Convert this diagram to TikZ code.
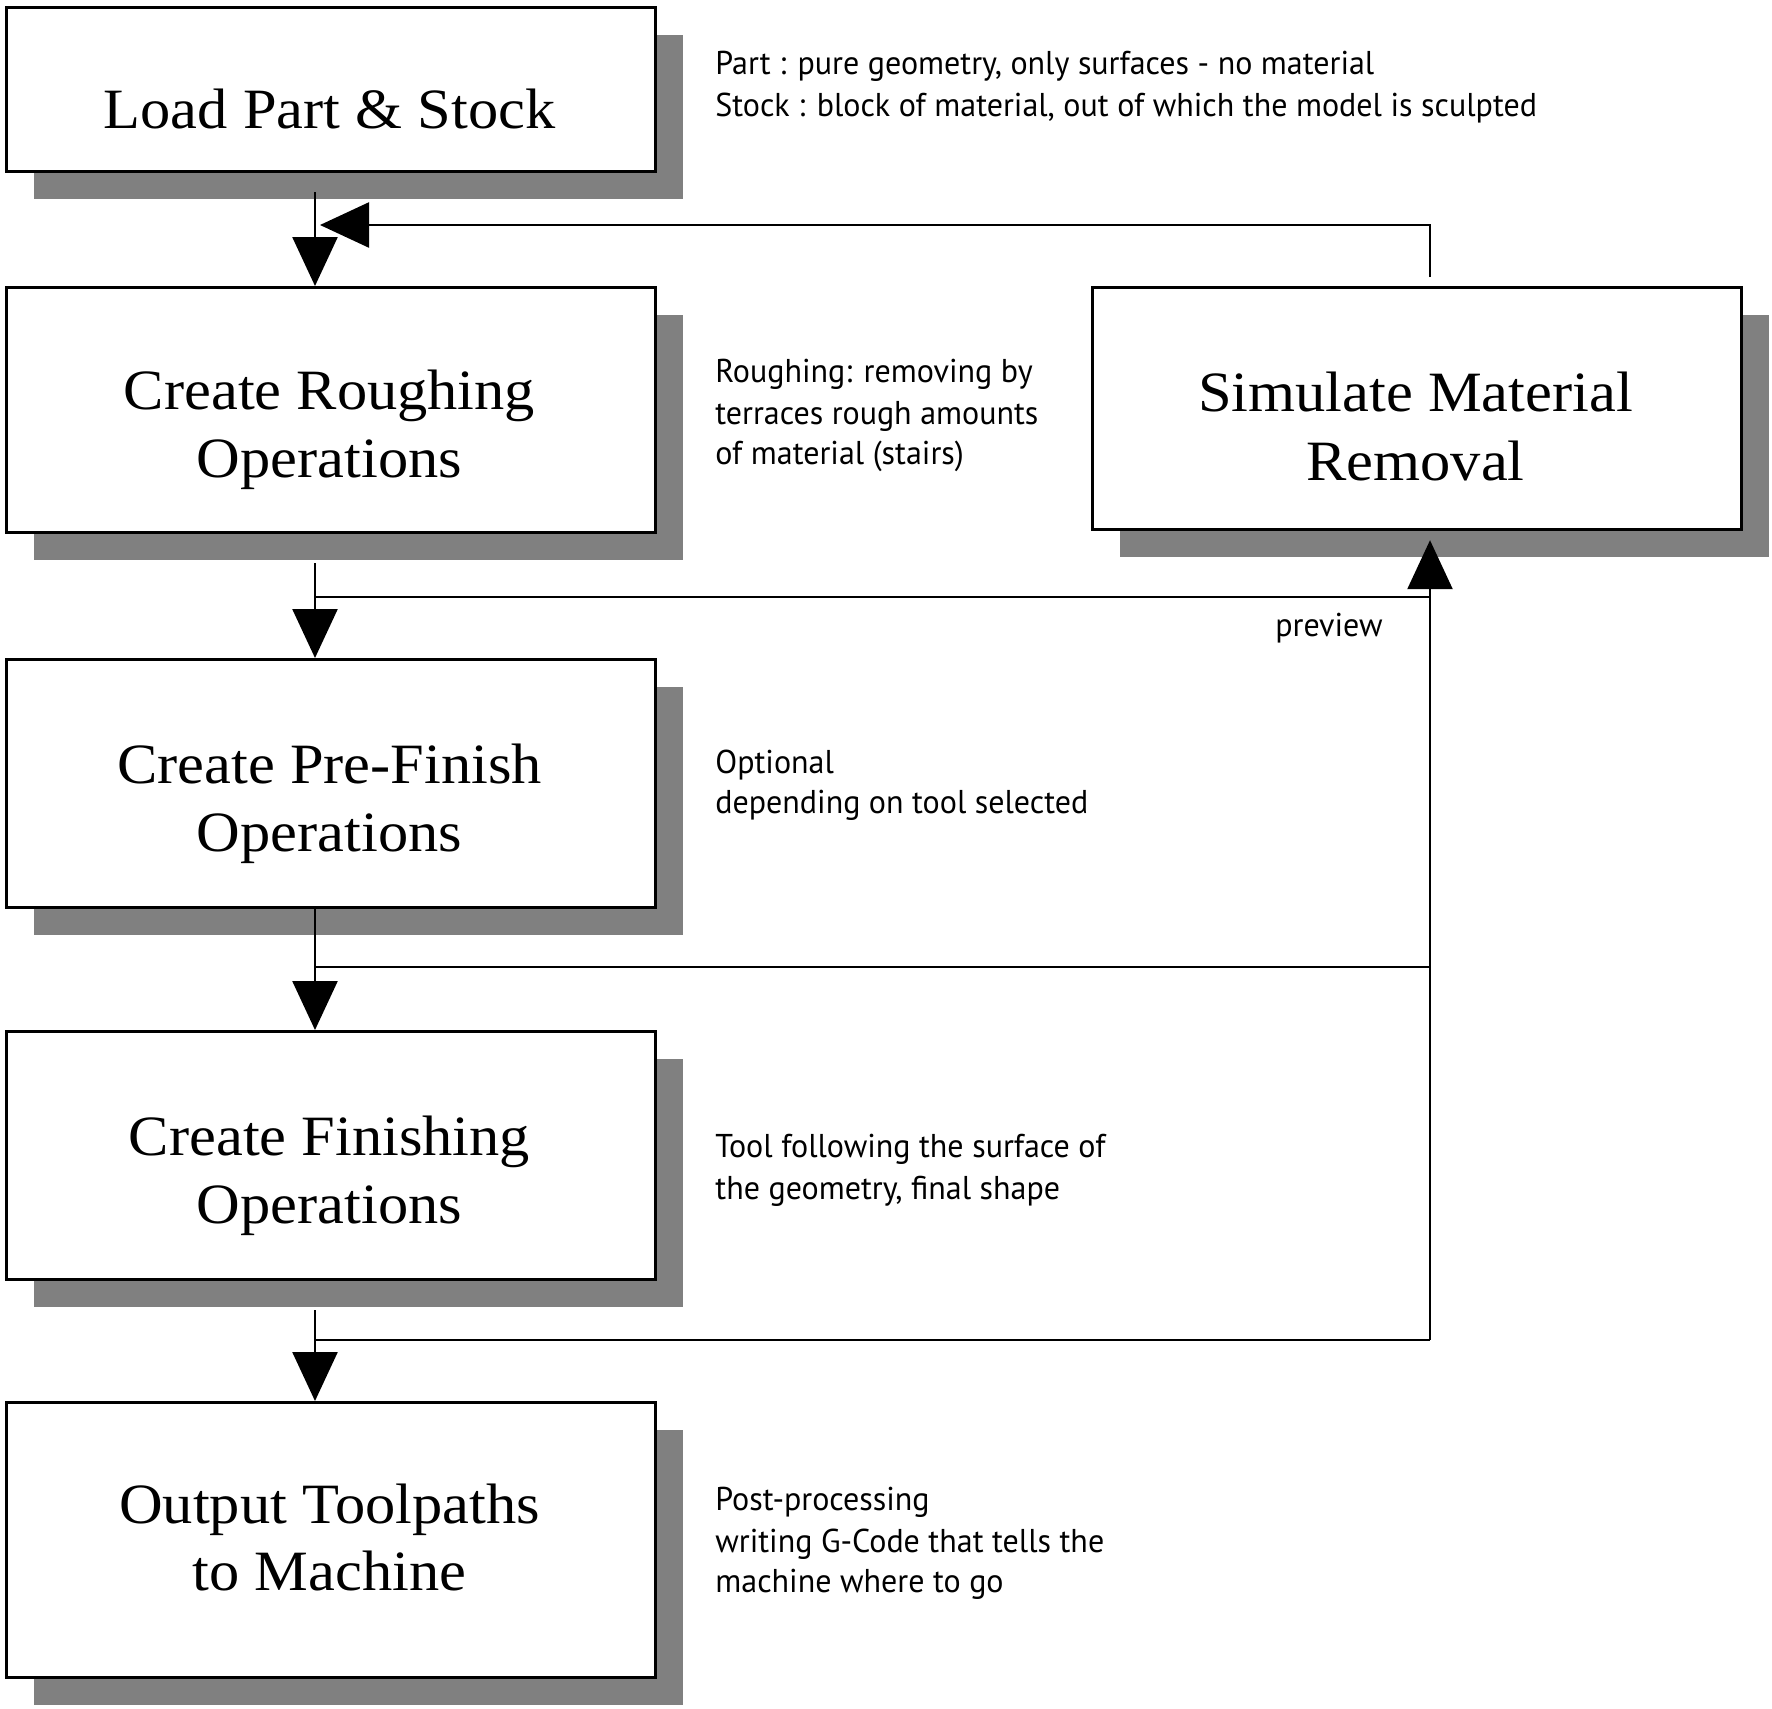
\documentclass[tikz,border=0pt]{standalone}
\usepackage{fontspec}
\usetikzlibrary{arrows.meta,shadows}
\newfontfamily\boxfont[FakeStretch=1.06]{Liberation Serif}
\newfontfamily\notefont[FakeStretch=0.97]{PT Sans}
\begin{document}
\begin{tikzpicture}[x=0.5pt,y=-0.5pt,
  stepbox/.style={draw=black, line width=1.6pt, fill=white, minimum width=324.5pt,
    inner sep=0pt, anchor=north west,
    drop shadow={shadow xshift=13.5pt, shadow yshift=-13.5pt, fill=black!50, opacity=1}},
  btext/.style={font=\boxfont\fontsize{28.5}{33.5}\selectfont, inner sep=0pt, anchor=base},
  note/.style={font=\notefont\fontsize{16.5}{20.5}\selectfont, inner sep=0pt, anchor=base west},
  conn/.style={line width=1.25pt, draw=black},
  arr/.style={conn, -{Triangle[length=24.5pt,width=22.5pt]}}]
\useasboundingbox (0,0) rectangle (1772,1708);
% boxes
\node[stepbox, minimum height=82pt] (b1) at (5,6) {};
\node[stepbox, minimum height=122.5pt] (b2) at (5,286) {};
\node[stepbox, minimum height=124pt] (b3) at (5,658) {};
\node[stepbox, minimum height=124pt] (b4) at (5,1030) {};
\node[stepbox, minimum height=137.5pt] (b5) at (5,1401) {};
\node[stepbox, minimum height=121pt] (sim) at (1091,286) {};
% box texts
\node[btext] (t1) at (329.5,128) {Load Part \& Stock};
\node[btext] (t2a) at (329.5,409) {Create Roughing};
\node[btext] (t2b) at (329.5,477) {Operations};
\node[btext] (t3a) at (329.5,783) {Create Pre-Finish};
\node[btext] (t3b) at (329.5,851) {Operations};
\node[btext] (t4a) at (329.5,1155) {Create Finishing};
\node[btext] (t4b) at (329.5,1223) {Operations};
\node[btext] (t5a) at (329.5,1523) {Output Toolpaths};
\node[btext] (t5b) at (329.5,1590) {to Machine};
\node[btext] (tsa) at (1415.5,411) {Simulate Material};
\node[btext] (tsb) at (1415.5,480) {Removal};
% notes
\node[note] (n1a) at (715,74) {Part : pure geometry, only surfaces - no material};
\node[note] (n1b) at (715,116) {Stock : block of material, out of which the model is sculpted};
\node[note] (n2a) at (715,382) {Roughing: removing by};
\node[note] (n2b) at (715,424) {terraces rough amounts};
\node[note] (n2c) at (715,464) {of material (stairs)};
\node[note] (n3a) at (715,773) {Optional};
\node[note] (n3b) at (715,813) {depending on tool selected};
\node[note] (n4a) at (715,1157) {Tool following the surface of};
\node[note] (n4b) at (715,1199) {the geometry, final shape};
\node[note] (n5a) at (715,1510) {Post-processing};
\node[note] (n5b) at (715,1552) {writing G-Code that tells the};
\node[note] (n5c) at (715,1592) {machine where to go};
\node[note, anchor=base] (pvl) at (1329,636) {preview};
% junction coordinates
\coordinate (j1) at (315,192);
\coordinate (fb) at (1430,225);
\coordinate (fbtip) at (320,225);
\coordinate (j2) at (315,563);
\coordinate (h2) at (315,597);
\coordinate (h3) at (315,967);
\coordinate (j4) at (315,1310);
\coordinate (h4) at (315,1340);
% connectors
\draw[arr] (j1) -- (j1 |- b2.north);
\draw[arr] ([yshift=4.5pt]sim.north -| fb) -- (fb) -- (fbtip);
\draw[arr] (j2) -- (j2 |- b3.north);
\draw[conn] (h2) -- (h2 -| fb);
\draw[arr] (b3.south -| j1) -- (b4.north -| j1);
\draw[conn] (h3) -- (h3 -| fb);
\draw[arr] (j4) -- (j4 |- b5.north);
\draw[conn] (h4) -- (h4 -| fb);
\draw[arr] (h4 -| fb) -- ([yshift=-4.5pt]sim.south -| fb);
\end{tikzpicture}
\end{document}
